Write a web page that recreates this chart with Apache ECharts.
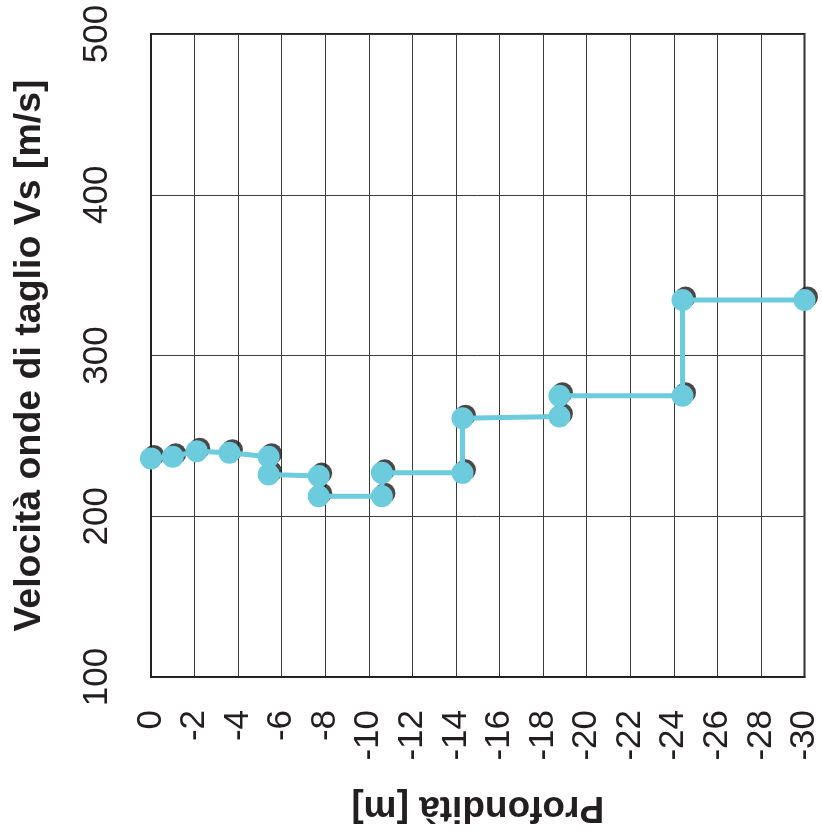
<!DOCTYPE html>
<html>
<head>
<meta charset="utf-8">
<script src="https://cdn.jsdelivr.net/npm/echarts@6/dist/echarts.min.js"></script>
<style>
html,body{margin:0;padding:0;background:#fff;}
#chart{width:822px;height:834px;}
</style>
</head>
<body>
<div id="chart"></div>
<script>
// Depth (m) and shear-wave velocity Vs (m/s)
var depths = [0, -1.0, -2.1, -3.6, -5.4, -5.4, -7.7, -7.7, -10.6, -10.6, -14.3, -14.3, -18.75, -18.75, -24.4, -24.4, -30];
var velocities = [236, 237, 240.5, 239.5, 237, 226, 225, 212.5, 212.5, 227, 227, 261, 262, 275, 275, 334.5, 334.5];
var xTitle = 'Profondità [m]';
var yTitle = 'Velocità onde di taglio Vs [m/s]';

var points = depths.map(function (d, i) { return [d, velocities[i]]; });

var chart = echarts.init(document.getElementById('chart'), null, {renderer: 'canvas'});
var textColor = '#231f20';
var font = 'Liberation Sans, Arial, sans-serif';
chart.setOption({
  animation: false,
  backgroundColor: '#ffffff',
  grid: {left: 151, right: 14, top: 34, bottom: 157, show: true, borderColor: '#222', borderWidth: 2, backgroundColor: 'transparent'},
  xAxis: {
    type: 'value', min: -30, max: 0, interval: 2, inverse: true,
    name: xTitle, nameLocation: 'middle', nameRotate: 180, nameGap: 112,
    nameTextStyle: {fontFamily: font, fontWeight: 'bold', fontSize: 37, color: textColor},
    axisLine: {show: true, lineStyle: {color: '#222', width: 2}},
    axisTick: {show: false},
    axisLabel: {rotate: 90, margin: 33, fontFamily: font, fontSize: 35, color: textColor},
    splitLine: {show: true, lineStyle: {color: '#3a3a3a', width: 1}}
  },
  yAxis: {
    type: 'value', min: 100, max: 500, interval: 100,
    name: yTitle, nameLocation: 'middle', nameRotate: 90, nameGap: 102,
    nameTextStyle: {fontFamily: font, fontWeight: 'bold', fontSize: 37.5, color: textColor},
    axisLine: {show: true, lineStyle: {color: '#222', width: 2}},
    axisTick: {show: false},
    axisLabel: {rotate: 90, margin: 36, fontFamily: font, fontSize: 35, color: textColor},
    splitLine: {show: true, lineStyle: {color: '#3a3a3a', width: 1}}
  },
  series: [
    {
      type: 'scatter', data: points, symbol: 'circle', symbolSize: 21,
      symbolOffset: [3, -3], clip: false, z: 1,
      itemStyle: {color: '#1a1a1a'}, silent: true
    },
    {
      type: 'line', data: points, symbol: 'circle', symbolSize: 22, showSymbol: true,
      clip: false, z: 2,
      lineStyle: {color: '#6ccbdc', width: 5},
      itemStyle: {color: '#6ccbdc', borderWidth: 0}
    }
  ]
});
</script>
</body>
</html>
